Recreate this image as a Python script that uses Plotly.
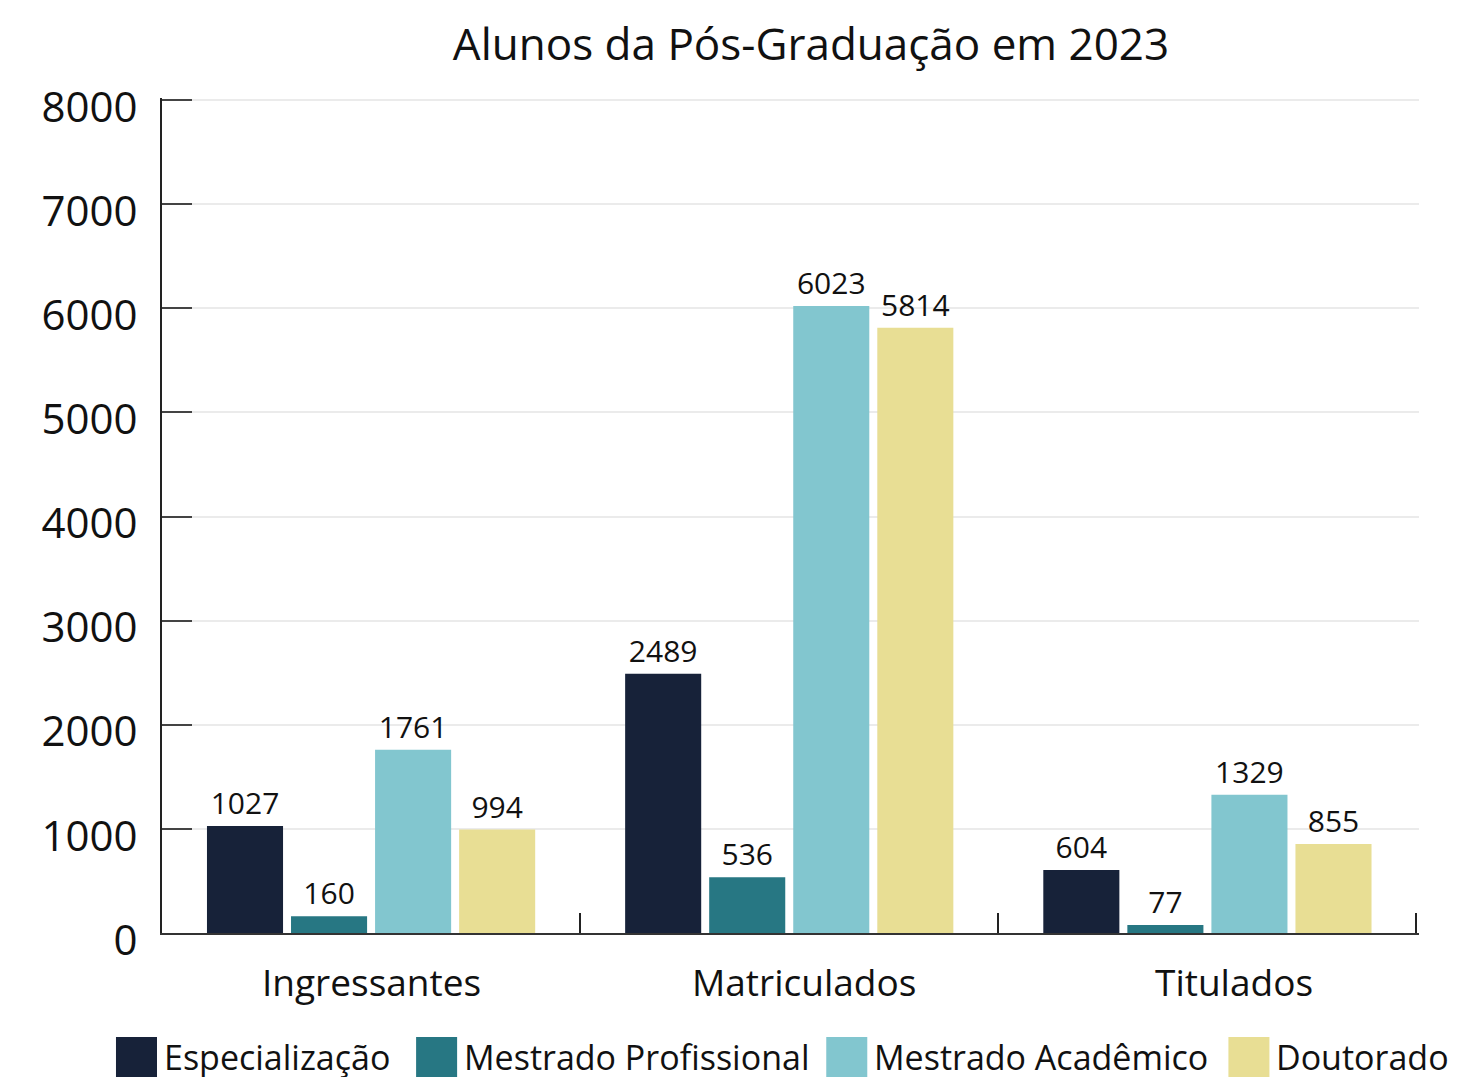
import plotly.graph_objects as go

FONT = "Open Sans, Noto Sans, sans-serif"

categories = ["Ingressantes", "Matriculados", "Titulados"]
series_names = ["Especialização", "Mestrado Profissional", "Mestrado Acadêmico", "Doutorado"]
especializacao = [1027, 2489, 604]
mestrado_prof = [160, 536, 77]
mestrado_acad = [1761, 6023, 1329]
doutorado = [994, 5814, 855]
y_ticks = [0, 1000, 2000, 3000, 4000, 5000, 6000, 7000, 8000]

COLORS = ["#172239", "#277783", "#82c6cf", "#e8de94"]

# the page body has an 8px margin, so the figure is sized/shifted to compensate
OFF = 8
W, H = 1458 - 2 * OFF, 1077 - OFF
Y_MAX = 8020             # a hair over 8000 so the top tick/grid are kept
X_RANGE = [-0.5, 2.506]  # likewise for the last boundary tick

# target plot box in screen pixels
LEFT, BOTTOM = 162, 933
PH = 833 * Y_MAX / 8000
PW = 1254 * (X_RANGE[1] - X_RANGE[0]) / 3
ML = LEFT - OFF
MT = BOTTOM - PH - OFF
MB = H - (BOTTOM - OFF)
MR = W - ML - PW


def px_x(p):
    return (p - LEFT) / PW


def px_y(p):
    return (BOTTOM - p) / PH


fig = go.Figure()
for name, vals, col in zip(series_names,
                           [especializacao, mestrado_prof, mestrado_acad, doutorado],
                           COLORS):
    fig.add_trace(go.Bar(
        x=categories, y=vals, name=name, marker_color=col, marker_line_width=0,
        text=[str(v) for v in vals], textposition="outside", cliponaxis=False,
        textfont=dict(size=30, color="#111", family=FONT),
        showlegend=False,
    ))

# category labels (the original sits them a little right of the group centres)
cat_shift = [0, 15, 27]
for cat, dx in zip(categories, cat_shift):
    fig.add_annotation(xref="x", yref="paper", x=cat, y=px_y(982), xshift=dx,
                       text=cat, showarrow=False, xanchor="center", yanchor="middle",
                       font=dict(size=37, color="#111", family=FONT))

# hand-drawn legend with large square swatches
leg_x = [116, 416, 826, 1228]
for name, col, x0 in zip(series_names, COLORS, leg_x):
    fig.add_shape(type="rect", xref="paper", yref="paper",
                  x0=px_x(x0), x1=px_x(x0 + 41), y0=px_y(1037), y1=px_y(1090),
                  fillcolor=col, line_width=0)
    fig.add_annotation(xref="paper", yref="paper", x=px_x(x0 + 46), y=px_y(1057),
                       text=name, showarrow=False, xanchor="left", yanchor="middle",
                       font=dict(size=34, color="#111", family=FONT))

fig.update_layout(
    width=W, height=H,
    barmode="group", bargap=0.196, bargroupgap=0.095,
    title=dict(text="Alunos da Pós-Graduação em 2023", x=(811 - OFF) / W, xanchor="center",
               y=1 - (45 - OFF) / H, yanchor="middle",
               font=dict(size=44, color="#111", family=FONT)),
    font=dict(family=FONT, color="#111"),
    plot_bgcolor="white", paper_bgcolor="white",
    margin=dict(l=ML, r=MR, t=MT, b=MB, pad=0),
)
fig.update_yaxes(
    range=[0, Y_MAX], tickvals=y_ticks, showgrid=True, gridcolor="#ebebeb", gridwidth=1.5,
    zeroline=False, showline=True, linecolor="#222", linewidth=2, automargin=False,
    ticks="inside", ticklen=30, tickcolor="#444", tickwidth=2,
    tickfont=dict(size=42, color="#111", family=FONT), ticklabelstandoff=14,
    ticklabelshift=7,
)
fig.update_xaxes(
    range=X_RANGE, showline=True, linecolor="#333", linewidth=2, tickson="boundaries",
    ticks="inside", ticklen=20, tickcolor="#222", tickwidth=1.5, automargin=False,
    showticklabels=False,
)

fig.write_html("out.html")
